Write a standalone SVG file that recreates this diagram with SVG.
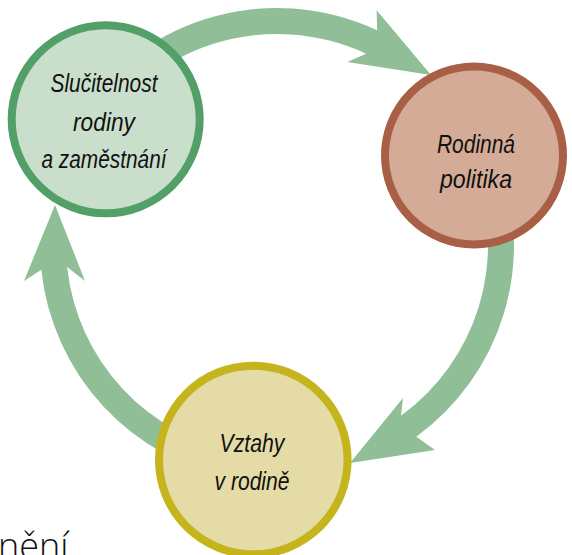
<svg xmlns="http://www.w3.org/2000/svg" width="572" height="555" viewBox="0 0 572 555">
<style>
.arrow{fill:#8fbe97;stroke:none}
.lbl{font-family:"Liberation Sans",Arial,sans-serif;font-style:italic;font-size:26px;fill:#111;text-anchor:middle}
.ring{stroke-width:8}
</style>
<rect width="572" height="555" fill="#ffffff"/>
<g id="connectors">
<path class="arrow" d="M71.75,126.5 A237,237 0 0 1 377.16,30.21 L376.63,10.27 L431,75 L347.24,62.01 L366.17,53.77 A211,211 0 0 0 94.27,139.5 Z"/>
<path class="arrow" d="M499.71,163.94 A237,237 0 0 1 416.31,436.73 L435,450 L350,463 L403,398 L401.03,415.7 A211,211 0 0 0 475.27,172.84 Z"/>
<path class="arrow" d="M235.85,478.4 A237,237 0 0 1 41.3,269.77 L24,281 L55,205 L85,281 L67.16,267.05 A211,211 0 0 0 240.36,452.8 Z"/>
</g>
<g id="node-slucitelnost">
<circle class="ring" cx="105.7" cy="119.3" r="94" fill="#c9dfcc" stroke="#52a068"/>
<text class="lbl" x="104" y="92" textLength="107" lengthAdjust="spacingAndGlyphs">Slučitelnost</text>
<text class="lbl" x="104" y="131" textLength="62" lengthAdjust="spacingAndGlyphs">rodiny</text>
<text class="lbl" x="104" y="168" textLength="125" lengthAdjust="spacingAndGlyphs">a zaměstnání</text>
</g>
<g id="node-rodinna-politika">
<circle class="ring" cx="474" cy="155.5" r="89" fill="#d4ab96" stroke="#a85f45"/>
<text class="lbl" x="476" y="153" textLength="78" lengthAdjust="spacingAndGlyphs">Rodinná</text>
<text class="lbl" x="476" y="188" textLength="72" lengthAdjust="spacingAndGlyphs">politika</text>
</g>
<g id="node-vztahy">
<circle class="ring" cx="253.3" cy="460" r="94.3" fill="#e4dba6" stroke="#c5b41c"/>
<text class="lbl" x="252" y="452" textLength="65" lengthAdjust="spacingAndGlyphs">Vztahy</text>
<text class="lbl" x="252" y="490" textLength="75" lengthAdjust="spacingAndGlyphs">v rodině</text>
</g>
<text x="-2" y="559" style="font-family:'Open Sans','Noto Sans',sans-serif;font-weight:300;font-size:36px;fill:#111">nění</text>
</svg>
